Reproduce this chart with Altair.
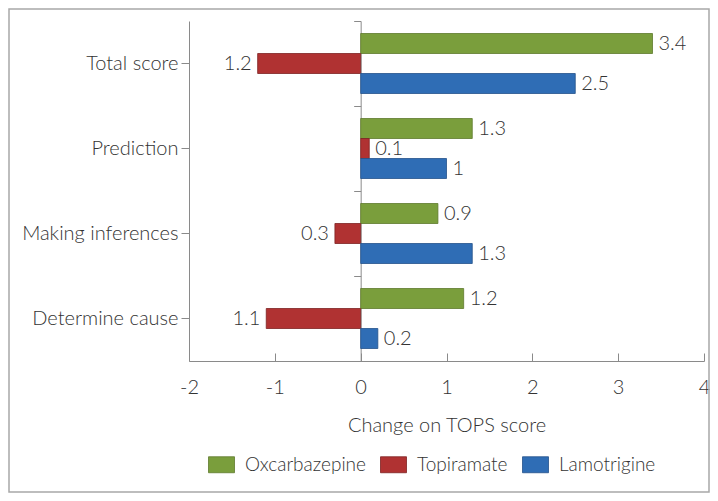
import altair as alt
import pandas as pd

categories = ["Total score", "Prediction", "Making inferences", "Determine cause"]
series = ["Oxcarbazepine", "Topiramate", "Lamotrigine"]
oxcarbazepine = [3.4, 1.3, 0.9, 1.2]
topiramate = [-1.2, 0.1, -0.3, -1.1]
lamotrigine = [2.5, 1.0, 1.3, 0.2]
x_ticks = [-2, -1, 0, 1, 2, 3, 4]

colors = ["#7a9e3c", "#b03232", "#2f6db5"]
strokes = ["#5e7a2c", "#7e2222", "#23528a"]
FONT = "Lato"
FW = 300
FS = 20
TXT = "#333333"
LINE = "#8a8a8a"

rows = []
for s, vals in zip(series, [oxcarbazepine, topiramate, lamotrigine]):
    for c, v in zip(categories, vals):
        lab = f"{abs(v):g}"
        rows.append({"category": c, "series": s, "value": v, "label": lab})
df = pd.DataFrame(rows)

y_scale = alt.Scale(domain=categories, paddingInner=0, paddingOuter=0)
yo_scale = alt.Scale(domain=series, paddingInner=0, paddingOuter=0.625)
x_scale = alt.Scale(domain=[-2, 4], nice=False, zero=False)

base = alt.Chart(df)

bars = base.mark_bar(strokeWidth=0.8).encode(
    x=alt.X("value:Q", scale=x_scale,
            axis=alt.Axis(orient="bottom", values=x_ticks, domain=False, ticks=False,
                          grid=False, labelExpr="'' + datum.value", labelFont=FONT,
                          labelFontWeight=FW, labelFontSize=FS, labelColor=TXT,
                          labelFlush=False, labelPadding=16,
                          title="Change on TOPS score", titleFont=FONT,
                          titleFontSize=FS, titleFontWeight=FW, titleColor=TXT,
                          titlePadding=18)),
    y=alt.Y("category:N", scale=y_scale, sort=categories,
            axis=alt.Axis(orient="left", title=None, labelFont=FONT, labelFontSize=FS,
                          labelFontWeight=FW, labelColor=TXT, tickSize=8, tickColor=LINE,
                          domainColor=LINE, labelPadding=3)),
    yOffset=alt.YOffset("series:N", scale=yo_scale, sort=series),
    color=alt.Color("series:N", scale=alt.Scale(domain=series, range=colors),
                    legend=alt.Legend(orient="none", legendX=19, legendY=430,
                                      direction="horizontal", title=None,
                                      symbolType="M-1,-0.615L1,-0.615L1,0.615L-1,0.615Z",
                                      symbolSize=676, symbolStrokeColor="#777",
                                      symbolStrokeWidth=0.8, symbolOpacity=1,
                                      labelFont=FONT, labelFontSize=19, labelFontWeight=FW,
                                      labelColor=TXT, labelOffset=10, columnPadding=12,
                                      padding=0)),
    stroke=alt.Stroke("series:N", scale=alt.Scale(domain=series, range=strokes), legend=None),
)

text_pos = base.transform_filter("datum.value >= 0").mark_text(
    align="left", baseline="middle", dx=6, font=FONT, fontSize=FS, fontWeight=FW, color=TXT
).encode(
    x=alt.X("value:Q", scale=x_scale,
            axis=alt.Axis(orient="top", offset=-340, values=x_ticks, labels=False,
                          title=None, grid=False, tickSize=8, tickColor=LINE,
                          domainColor=LINE)),
    y=alt.Y("category:N", scale=y_scale, sort=categories,
            axis=alt.Axis(orient="left", offset=-171.67, bandPosition=0, labels=False,
                          title=None, tickSize=7, tickColor=LINE, domainColor=LINE)),
    yOffset=alt.YOffset("series:N", scale=yo_scale, sort=series),
    text="label:N",
)

text_neg = base.transform_filter("datum.value < 0").mark_text(
    align="right", baseline="middle", dx=-6, font=FONT, fontSize=FS, fontWeight=FW, color=TXT
).encode(
    x=alt.X("value:Q", scale=x_scale, axis=None),
    y=alt.Y("category:N", scale=y_scale, sort=categories, axis=None),
    yOffset=alt.YOffset("series:N", scale=yo_scale, sort=series),
    text="label:N",
)

border = alt.Chart(pd.DataFrame({"k": [0]})).mark_rect(
    filled=False, stroke="#a8a8a8", strokeWidth=1.5
).encode(
    x=alt.value(-180), x2=alt.value(520), y=alt.value(-12), y2=alt.value(471)
)

chart = alt.layer(bars, text_pos, text_neg, border).resolve_axis(
    x="independent", y="independent"
).properties(
    width=515, height=340,
    autosize=alt.AutoSizeParams(type="none"),
    padding={"left": 181, "top": 13, "right": 6, "bottom": 132},
).configure_view(stroke=None)

chart.save("out.html", embed_options={"renderer": "svg", "actions": False})
